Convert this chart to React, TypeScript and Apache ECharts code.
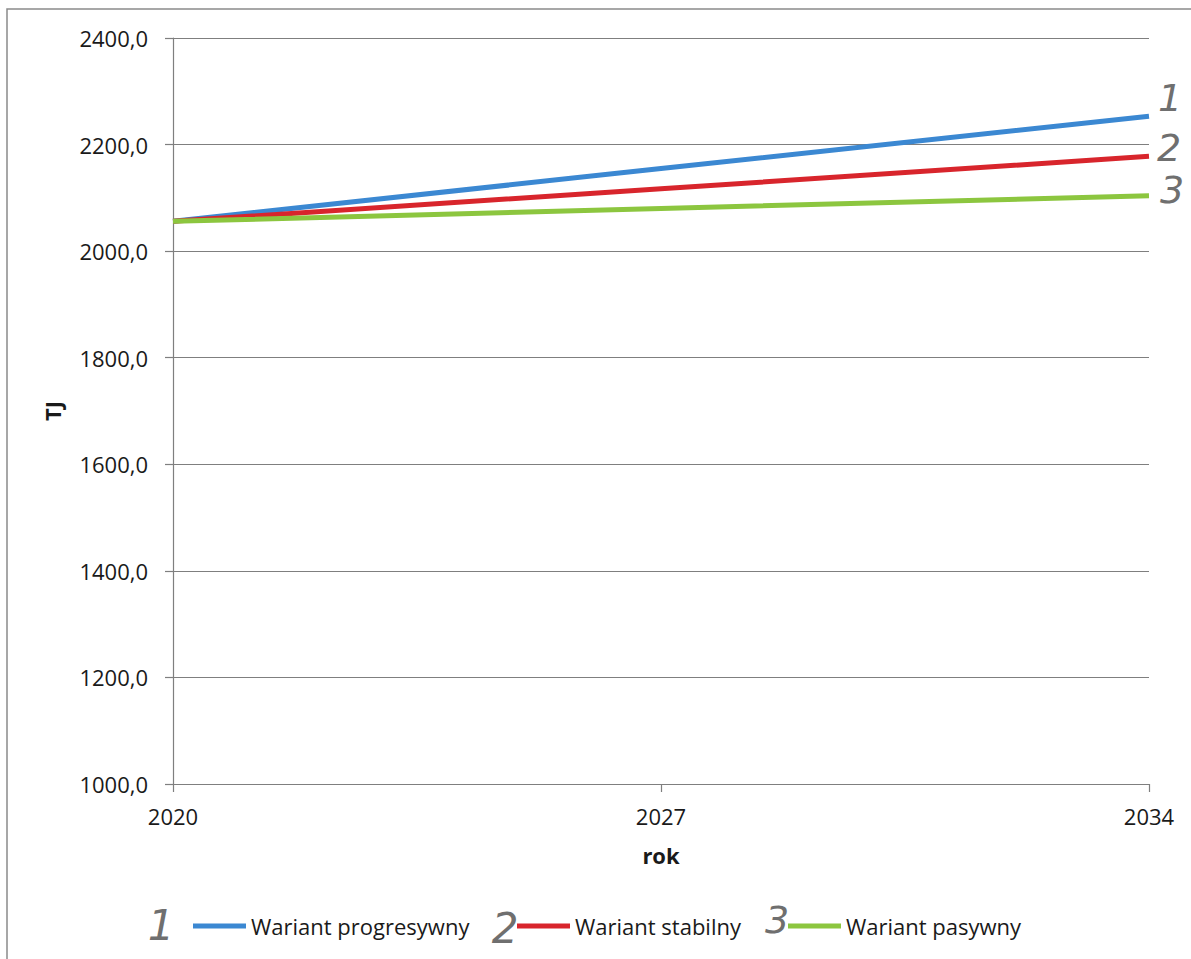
import React, { useEffect, useRef } from "react";
import * as echarts from "echarts";

const years = ["2020", "2027", "2034"];
const progresywny = [2056, 2155, 2253];
const stabilny = [2056, 2117, 2178];
const pasywny = [2056, 2080, 2104];
const seriesNames = ["Wariant progresywny", "Wariant stabilny", "Wariant pasywny"];
const yTicks = { min: 1000, max: 2400, interval: 200 };

const FONT = "'Open Sans', 'Noto Sans', sans-serif";
const AX = "#7f7f7f";
const COLORS = ["#3b88d2", "#d8252c", "#8cc63f"];

export default function App() {
  const ref = useRef<HTMLDivElement>(null);
  useEffect(() => {
    if (!ref.current) return;
    const chart = echarts.init(ref.current, null, { renderer: "svg" });
    const hand = (text: string, x: number, y: number, size = 38) => ({
      type: "text",
      x,
      y,
      style: {
        text,
        fontSize: size,
        fontFamily: "'DejaVu Sans', sans-serif",
        fontWeight: 200,
        fontStyle: "italic",
        fill: "#6f6f6f",
        textAlign: "center",
        textVerticalAlign: "middle",
      },
    });
    const mkLegend = (name: string, left: number) => ({
      data: [name],
      left,
      top: 915,
      padding: 0,
      icon: "rect",
      itemWidth: 53,
      itemHeight: 5,
      itemGap: 0,
      textStyle: { fontFamily: FONT, fontSize: 22, color: "#1a1a1a", padding: [0, 0, 0, 0] },
    });
    chart.setOption({
      animation: false,
      backgroundColor: "#ffffff",
      textStyle: { fontFamily: FONT },
      grid: { left: 173, right: 42, top: 38, bottom: 175, containLabel: false },
      legend: [
        mkLegend(seriesNames[0], 193),
        mkLegend(seriesNames[1], 517),
        mkLegend(seriesNames[2], 788),
      ],
      xAxis: {
        type: "category",
        data: years,
        boundaryGap: false,
        name: "rok",
        nameLocation: "middle",
        nameGap: 60,
        nameTextStyle: { fontFamily: FONT, fontSize: 22, fontWeight: "bold", color: "#1a1a1a" },
        axisLine: { lineStyle: { color: AX, width: 1.2 } },
        axisTick: { show: true, alignWithLabel: true, length: 8, lineStyle: { color: AX, width: 1.2 } },
        axisLabel: { fontFamily: FONT, fontSize: 22, color: "#1a1a1a", margin: 21 },
        splitLine: { show: false },
      },
      yAxis: {
        type: "value",
        min: yTicks.min,
        max: yTicks.max,
        interval: yTicks.interval,
        name: "TJ",
        nameLocation: "middle",
        nameGap: 110,
        nameTextStyle: { fontFamily: FONT, fontSize: 22, fontWeight: "bold", color: "#1a1a1a" },
        axisLine: { show: true, lineStyle: { color: AX, width: 1.2 } },
        axisTick: { show: true, length: 8, lineStyle: { color: AX, width: 1.2 } },
        axisLabel: {
          fontFamily: FONT,
          fontSize: 22,
          color: "#1a1a1a",
          margin: 25,
          formatter: (v: number) => v.toFixed(1).replace(".", ","),
        },
        splitLine: { show: true, lineStyle: { color: AX, width: 1.2 } },
      },
      series: [
        { name: seriesNames[0], type: "line", data: progresywny, symbol: "none", color: COLORS[0], lineStyle: { width: 5, color: COLORS[0] } },
        { name: seriesNames[1], type: "line", data: stabilny, symbol: "none", color: COLORS[1], lineStyle: { width: 5, color: COLORS[1] } },
        { name: seriesNames[2], type: "line", data: pasywny, symbol: "none", color: COLORS[2], lineStyle: { width: 5, color: COLORS[2] } },
      ],
      graphic: [
        {
          type: "rect",
          shape: { x: 7, y: 9, width: 1200, height: 1000 },
          style: { fill: "none", stroke: "#8a8a8a", lineWidth: 1.5 },
          silent: true,
        },
        hand("1", 1170, 98),
        hand("2", 1169, 148),
        hand("3", 1172, 190),
        hand("1", 161, 925, 42),
        hand("2", 505, 928, 42),
        hand("3", 777, 920),
      ],
    });
    return () => chart.dispose();
  }, []);
  return (
    <div
      ref={ref}
      style={{ position: "fixed", left: 0, top: 0, width: 1191, height: 959, background: "#fff" }}
    />
  );
}
